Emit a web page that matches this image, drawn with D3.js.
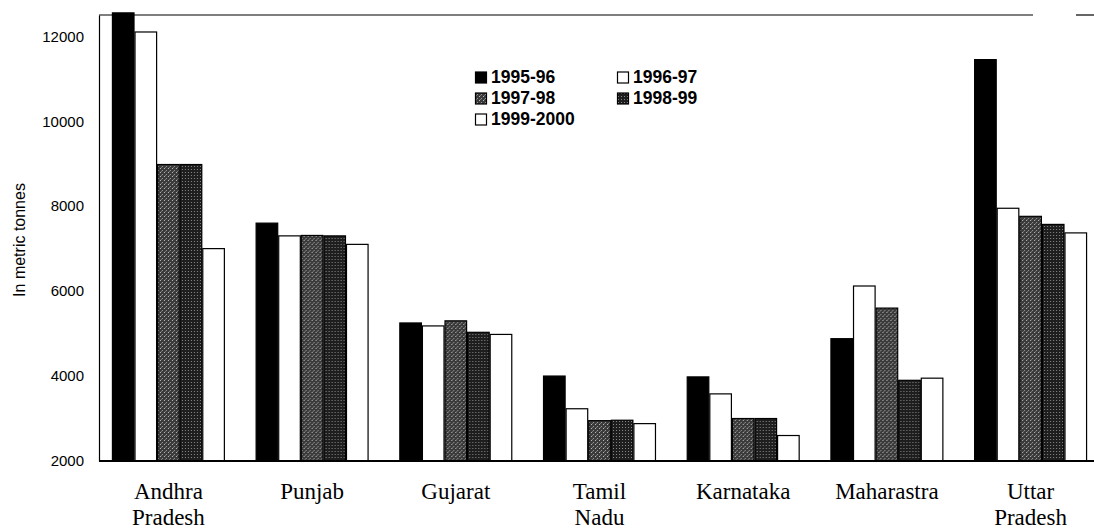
<!DOCTYPE html>
<html lang="en">
<head>
    <meta charset="utf-8">
    <title>cotton_states</title>
    <script type="text/javascript" src="https://d3js.org/d3.v7.min.js"></script>
    <style type="text/css">
        body { margin: 0; background: #fff; }
        svg { display: block; }
    </style>
</head>
<body>

<script type="text/javascript">

    // values, in metric tonnes
    var states = ["Andhra Pradesh", "Punjab", "Gujarat", "Tamil Nadu", "Karnataka", "Maharastra", "Uttar Pradesh"];
    var state_lines = [["Andhra", "Pradesh"], ["Punjab"], ["Gujarat"], ["Tamil", "Nadu"], ["Karnataka"], ["Maharastra"], ["Uttar", "Pradesh"]];
    var years = ["1995-96", "1996-97", "1997-98", "1998-99", "1999-2000"];

    var v_1995_96 = [12550, 7600, 5250, 4000, 3980, 4880, 11450];
    var v_1996_97 = [12100, 7300, 5180, 3230, 3580, 6120, 7950];
    var v_1997_98 = [8980, 7310, 5300, 2950, 3000, 5600, 7760];
    var v_1998_99 = [8980, 7300, 5030, 2960, 3000, 3900, 7570];
    var v_1999_00 = [7000, 7100, 4980, 2880, 2600, 3950, 7370];

    var y_ticks = [2000, 4000, 6000, 8000, 10000, 12000];

    var series = [v_1995_96, v_1996_97, v_1997_98, v_1998_99, v_1999_00];

    // note: "top" is taken by window.top, so plot_* names
    var width = 1094, height = 530;
    var plot_left = 99, plot_bottom = 461, plot_top = 15;

    var sans = "'Liberation Sans', Arial, sans-serif";
    var serif = "'Liberation Serif', 'Times New Roman', serif";

    var svg = d3.select("body")
        .append("svg")
        .attr("width", width)
        .attr("height", height);

    //Patterns for the shaded years
    var defs = svg.append("defs");
    var p1 = defs.append("pattern")
        .attr("id", "hatch")
        .attr("width", 4).attr("height", 4)
        .attr("patternUnits", "userSpaceOnUse");
    p1.append("rect").attr("width", 4).attr("height", 4).attr("fill", "#3a3a3a");
    p1.append("rect").attr("x", 0).attr("y", 0).attr("width", 1).attr("height", 1).attr("fill", "#bbb");
    p1.append("rect").attr("x", 2).attr("y", 2).attr("width", 1).attr("height", 1).attr("fill", "#999");
    p1.append("rect").attr("x", 1).attr("y", 3).attr("width", 1).attr("height", 1).attr("fill", "#777");

    var p2 = defs.append("pattern")
        .attr("id", "dots")
        .attr("width", 3).attr("height", 3)
        .attr("patternUnits", "userSpaceOnUse");
    p2.append("rect").attr("width", 3).attr("height", 3).attr("fill", "#1e1e1e");
    p2.append("rect").attr("x", 1).attr("y", 1).attr("width", 1).attr("height", 1).attr("fill", "#888");

    var fills = ["#000", "#fff", "url(#hatch)", "url(#dots)", "#fff"];

    var x = d3.scaleBand()
        .domain(states)
        .range([100, 1099])
        .paddingInner(0.214)
        .paddingOuter(0.083);

    var x_year = d3.scaleBand()
        .domain(years)
        .range([0, x.bandwidth()]);

    var y = d3.scaleLinear()
        .domain([2000, 12500])
        .range([plot_bottom, plot_top]);

    //Top frame line
    svg.append("line")
        .attr("x1", plot_left).attr("x2", 1033)
        .attr("y1", plot_top).attr("y2", plot_top)
        .attr("stroke", "#000").attr("stroke-width", 1.2);
    svg.append("line")
        .attr("x1", 1076).attr("x2", 1094)
        .attr("y1", plot_top).attr("y2", plot_top)
        .attr("stroke", "#000").attr("stroke-width", 1.2);

    //Bars
    var groups = svg.selectAll("g.state")
        .data(states)
        .enter()
        .append("g")
        .attr("class", "state")
        .attr("transform", d => "translate(" + x(d) + ",0)");

    groups.selectAll("rect")
        .data((d, i) => years.map((yr, j) => ({year: yr, j: j, value: series[j][i]})))
        .enter()
        .append("rect")
        .attr("x", d => x_year(d.year) + 0.5)
        .attr("y", d => y(d.value))
        .attr("width", x_year.bandwidth() - 1)
        .attr("height", d => plot_bottom - y(d.value))
        .attr("fill", d => fills[d.j])
        .attr("stroke", "#000")
        .attr("stroke-width", 1.2);

    //Y axis
    var y_axis = d3.axisLeft(y)
        .tickValues(y_ticks)
        .tickSize(0)
        .tickPadding(15)
        .tickFormat(d3.format("d"));

    var ya = svg.append("g")
        .attr("transform", "translate(" + plot_left + ",0)")
        .call(y_axis);
    ya.select(".domain").attr("stroke", "#000").attr("stroke-width", 1.2);
    ya.selectAll("text")
        .attr("font-family", sans)
        .attr("font-size", 15)
        .attr("fill", "#000");

    svg.append("text")
        .attr("transform", "translate(25,240) rotate(-90)")
        .attr("text-anchor", "middle")
        .attr("font-family", sans)
        .attr("font-size", 16)
        .text("In metric tonnes");

    //Bottom line
    svg.append("line")
        .attr("x1", plot_left).attr("x2", width)
        .attr("y1", plot_bottom).attr("y2", plot_bottom)
        .attr("stroke", "#000").attr("stroke-width", 2);

    //State labels
    var labels = svg.selectAll("text.state")
        .data(states)
        .enter()
        .append("text")
        .attr("class", "state")
        .attr("text-anchor", "middle")
        .attr("font-family", serif)
        .attr("font-size", 23)
        .attr("x", d => x(d) + x.bandwidth() / 2)
        .attr("y", 499);

    labels.selectAll("tspan")
        .data((d, i) => state_lines[i].map(s => ({s: s, x: x(d) + x.bandwidth() / 2})))
        .enter()
        .append("tspan")
        .attr("x", d => d.x)
        .attr("dy", (d, i) => i == 0 ? 0 : 26)
        .text(d => d.s);

    //Legend
    var legend_pos = [[475, 83], [617, 83], [475, 104], [617, 104], [475, 125]];
    var legend = svg.selectAll("g.legend")
        .data(years)
        .enter()
        .append("g")
        .attr("class", "legend")
        .attr("transform", (d, i) => "translate(" + legend_pos[i][0] + "," + legend_pos[i][1] + ")");

    legend.append("rect")
        .attr("x", 0.5).attr("y", -11)
        .attr("width", 11).attr("height", 11)
        .attr("fill", (d, i) => fills[i])
        .attr("stroke", "#000")
        .attr("stroke-width", 1.2);

    legend.append("text")
        .attr("x", 16)
        .attr("y", 0)
        .attr("font-family", sans)
        .attr("font-weight", "bold")
        .attr("font-size", 17.5)
        .text(d => d);

</script>
</body>
</html>
